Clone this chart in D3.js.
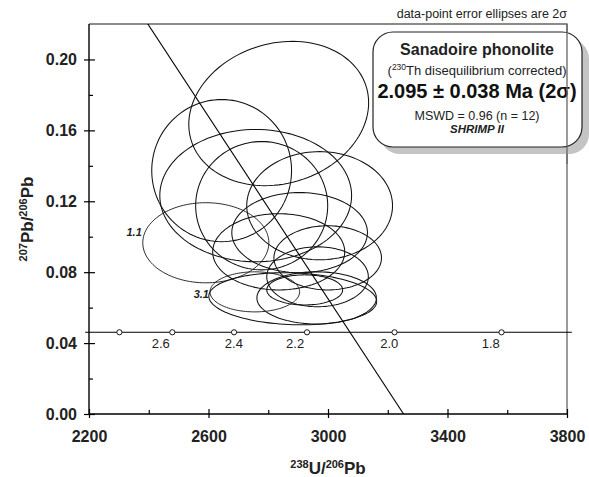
<!DOCTYPE html>
<meta charset="utf-8">
<script src="https://cdn.jsdelivr.net/npm/d3@7"></script>
<style>
  body { margin: 0; background: #fff; }
  text { font-family: "Liberation Sans", Arial, Helvetica, sans-serif; }
</style>
<div id="chart"></div>
<script>

// spot analyses, 238U/206Pb and 207Pb/206Pb with 2 sigma errors
var spotNames = ["", "", "", "", "", "", "1.1", "", "", "", "3.1", "", "", ""];
var spotU     = [2835, 2644, 2758, 2778, 2972, 2905, 2591, 2835, 2999, 2965, 2755, 2882, 2962, 2922];
var spotUerr  = [301, 234, 321, 221, 244, 227, 211, 221, 180, 170, 150, 281, 200, 127];
var spotPb    = [0.1695, 0.1373, 0.1232, 0.1175, 0.1175, 0.1023, 0.0966, 0.0915, 0.0881, 0.0774, 0.0689, 0.0650, 0.0655, 0.0700];
var spotPberr = [0.0407, 0.0401, 0.0373, 0.0362, 0.0305, 0.0226, 0.0226, 0.0215, 0.0181, 0.0169, 0.0113, 0.0147, 0.0147, 0.0085];
var spotRho   = [0.15, 0, 0, 0, 0, 0, 0, 0, 0, 0, 0, -0.1, 0, 0];
// 207Pb/206Pb level of the spot label baselines
var spotLabelPb = [0, 0, 0, 0, 0, 0, 0.1005, 0, 0, 0, 0.0655, 0, 0, 0];

// concordia age marks (Ma) and where their labels sit (in 238U/206Pb)
var concordiaAges = [2.8, 2.6, 2.4, 2.2, 2.0, 1.8];
var concordiaSpan = [2.947, 1.689];
var ageLabels = ["2.6", "2.4", "2.2", "2.0", "1.8"];
var ageLabelU = [2440, 2685, 2890, 3205, 3545];

// regression line: 207Pb/206Pb at x = 0, and 238U/206Pb at y = 0
var regPbIntercept = 0.836;
var regUIntercept = 3253;

var xTicks = [2200, 2600, 3000, 3400, 3800];
var xMinor = [2400, 2800, 3200, 3600];
var yTicks = [0.00, 0.04, 0.08, 0.12, 0.16, 0.20];
var yMinor = [0.02, 0.06, 0.10, 0.14, 0.18];

var margin = {top: 24, right: 22, bottom: 63, left: 89},
    width = 589 - margin.left - margin.right,
    height = 477 - margin.top - margin.bottom;

var svg = d3.select("#chart")
  .append("svg")
    .attr("width", 589)
    .attr("height", 477)
  .append("g")
    .attr("transform", "translate(" + margin.left + "," + margin.top + ")");

var x = d3.scaleLinear().domain([2200, 3800]).range([0, width]);
var y = d3.scaleLinear().domain([0, 0.22]).range([height, 0]);

svg.append("clipPath").attr("id", "plotclip")
  .append("rect").attr("width", width).attr("height", height);

// frame: top and right in grey
svg.append("path")
  .attr("d", "M0,0H" + width + "V" + height)
  .attr("fill", "none")
  .attr("stroke", "#666")
  .attr("stroke-width", 1.3);

// y axis
var yAx = svg.append("g")
  .call(d3.axisLeft(y).tickValues(yTicks).tickSize(5).tickPadding(7).tickFormat(d3.format(".2f")));
svg.append("g").call(d3.axisRight(y).tickValues(yTicks).tickSize(6).tickFormat(""));
svg.append("g").call(d3.axisRight(y).tickValues(yMinor).tickSize(4).tickFormat(""));

// x axis
var xAx = svg.append("g")
  .attr("transform", "translate(0," + height + ")")
  .call(d3.axisBottom(x).tickValues(xTicks).tickSize(4).tickPadding(13).tickFormat(d3.format("d")));
svg.append("g").attr("transform", "translate(0," + height + ")")
  .call(d3.axisTop(x).tickValues(xTicks).tickSize(5).tickFormat(""));
svg.append("g").attr("transform", "translate(0," + height + ")")
  .call(d3.axisTop(x).tickValues(xMinor).tickSize(4).tickFormat(""));

svg.selectAll(".domain").remove();
svg.selectAll(".tick line").attr("stroke", "#000").attr("stroke-width", 1.2);
svg.selectAll(".tick text")
  .attr("font-family", "Liberation Sans, Arial, sans-serif")
  .attr("font-size", 16)
  .attr("font-weight", "bold")
  .attr("fill", "#222");

svg.append("line").attr("x1", 0).attr("x2", 0).attr("y1", 0).attr("y2", height)
  .attr("stroke", "#000").attr("stroke-width", 1.4);
svg.append("line").attr("x1", 0).attr("x2", width).attr("y1", height).attr("y2", height)
  .attr("stroke", "#000").attr("stroke-width", 1.4);

// concordia curve (Tera-Wasserburg)
var l238 = 1.55125e-4, l235 = 9.8485e-4; // per Ma
function concU(t) { return 1 / (Math.exp(l238 * t) - 1); }
function concPb(t) { return (Math.exp(l235 * t) - 1) / (Math.exp(l238 * t) - 1) / 137.88; }

svg.append("path")
  .datum(d3.range(0, 41).map(function(k) {
    return concordiaSpan[0] + (concordiaSpan[1] - concordiaSpan[0]) * k / 40;
  }))
  .attr("fill", "none")
  .attr("stroke", "#000")
  .attr("stroke-width", 1.1)
  .attr("d", d3.line()
    .x(function(t) { return x(concU(t)); })
    .y(function(t) { return y(concPb(t)); }));

// error ellipses
var ellipse = d3.line()
  .x(function(d) { return x(d[0]); })
  .y(function(d) { return y(d[1]); });

svg.append("g").attr("clip-path", "url(#plotclip)")
  .selectAll("path")
  .data(d3.range(spotU.length))
  .enter()
  .append("path")
    .attr("fill", "none")
    .attr("stroke", function(i) { return spotNames[i] ? "#222" : "#111"; })
    .attr("stroke-width", function(i) { return spotNames[i] ? 0.95 : 1.05; })
    .attr("d", function(i) {
      var r = spotRho[i], pts = [];
      for (var k = 0; k <= 120; k++) {
        var a = k / 120 * 2 * Math.PI;
        pts.push([spotU[i] + spotUerr[i] * Math.cos(a),
                  spotPb[i] + spotPberr[i] * (r * Math.cos(a) + Math.sqrt(1 - r * r) * Math.sin(a))]);
      }
      return ellipse(pts);
    });

// spot labels, left of their ellipse
svg.selectAll(".spotlabel")
  .data(d3.range(spotU.length).filter(function(i) { return spotNames[i]; }))
  .enter()
  .append("text")
    .attr("x", function(i) { return x(spotU[i] - spotUerr[i]) - 1; })
    .attr("y", function(i) { return y(spotLabelPb[i]); })
    .attr("text-anchor", "end")
    .attr("font-size", 11)
    .attr("font-weight", "bold")
    .attr("font-style", "italic")
    .attr("fill", "#222")
    .text(function(i) { return spotNames[i]; });

// regression line
svg.append("line")
  .attr("clip-path", "url(#plotclip)")
  .attr("x1", x(0)).attr("y1", y(regPbIntercept))
  .attr("x2", x(regUIntercept)).attr("y2", y(0))
  .attr("stroke", "#000")
  .attr("stroke-width", 1.1);

// age marks on concordia
svg.selectAll(".agemark")
  .data(concordiaAges)
  .enter()
  .append("circle")
    .attr("cx", function(t) { return x(concU(t)); })
    .attr("cy", function(t) { return y(concPb(t)); })
    .attr("r", 2.6)
    .attr("fill", "#fff")
    .attr("stroke", "#000")
    .attr("stroke-width", 0.9);

svg.selectAll(".agelabel")
  .data(ageLabels)
  .enter()
  .append("text")
    .attr("x", function(d, i) { return x(ageLabelU[i]); })
    .attr("y", y(concPb(2)) + 16)
    .attr("text-anchor", "middle")
    .attr("font-size", 13)
    .attr("fill", "#222")
    .text(function(d) { return d; });

// axis titles
var xt = svg.append("text")
  .attr("x", x(3000))
  .attr("y", height + 60)
  .attr("text-anchor", "middle")
  .attr("font-size", 17)
  .attr("font-weight", "bold")
  .attr("fill", "#222");
xt.append("tspan").attr("font-size", 11).attr("dy", -6).text("238");
xt.append("tspan").attr("dy", 6).text("U/");
xt.append("tspan").attr("font-size", 11).attr("dy", -6).text("206");
xt.append("tspan").attr("dy", 6).text("Pb");

var yt = svg.append("text")
  .attr("transform", "translate(" + (-56) + "," + (height / 2) + ") rotate(-90)")
  .attr("text-anchor", "middle")
  .attr("font-size", 17)
  .attr("font-weight", "bold")
  .attr("fill", "#222");
yt.append("tspan").attr("font-size", 11).attr("dy", -6).text("207");
yt.append("tspan").attr("dy", 6).text("Pb/");
yt.append("tspan").attr("font-size", 11).attr("dy", -6).text("206");
yt.append("tspan").attr("dy", 6).text("Pb");

// note above the frame
svg.append("text")
  .attr("x", width)
  .attr("y", -6)
  .attr("text-anchor", "end")
  .attr("font-size", 12.5)
  .attr("fill", "#222")
  .text("data-point error ellipses are 2\u03c3");

// result box with shadow
var box = svg.append("g").attr("transform", "translate(" + (width - 194) + ",8)");
box.append("rect")
  .attr("x", 7).attr("y", 7).attr("width", 209).attr("height", 115).attr("rx", 20)
  .attr("fill", "#c4c4c4");
svg.append("line").attr("x1", width).attr("x2", width).attr("y1", 0).attr("y2", 140)
  .attr("stroke", "#666").attr("stroke-width", 1.3);
box.append("rect")
  .attr("width", 209).attr("height", 115).attr("rx", 20)
  .attr("fill", "#fff")
  .attr("stroke", "#222")
  .attr("stroke-width", 1.2);

var cx = 104;
box.append("text").attr("x", cx).attr("y", 23).attr("text-anchor", "middle")
  .attr("font-size", 16).attr("font-weight", "bold").attr("fill", "#222")
  .text("Sanadoire phonolite");
var sub = box.append("text").attr("x", cx).attr("y", 43).attr("text-anchor", "middle")
  .attr("font-size", 13).attr("fill", "#222");
sub.append("tspan").text("(");
sub.append("tspan").attr("font-size", 8.5).attr("dy", -5).text("230");
sub.append("tspan").attr("dy", 5).text("Th disequilibrium corrected)");
box.append("text").attr("x", cx).attr("y", 66).attr("text-anchor", "middle")
  .attr("font-size", 20).attr("font-weight", "bold").attr("fill", "#111")
  .text("2.095 \u00b1 0.038 Ma (2\u03c3)");
box.append("text").attr("x", cx).attr("y", 88).attr("text-anchor", "middle")
  .attr("font-size", 12.5).attr("fill", "#222")
  .text("MSWD = 0.96 (n = 12)");
box.append("text").attr("x", cx).attr("y", 101).attr("text-anchor", "middle")
  .attr("font-size", 11.5).attr("font-weight", "bold").attr("font-style", "italic").attr("fill", "#222")
  .text("SHRIMP II");

</script>
